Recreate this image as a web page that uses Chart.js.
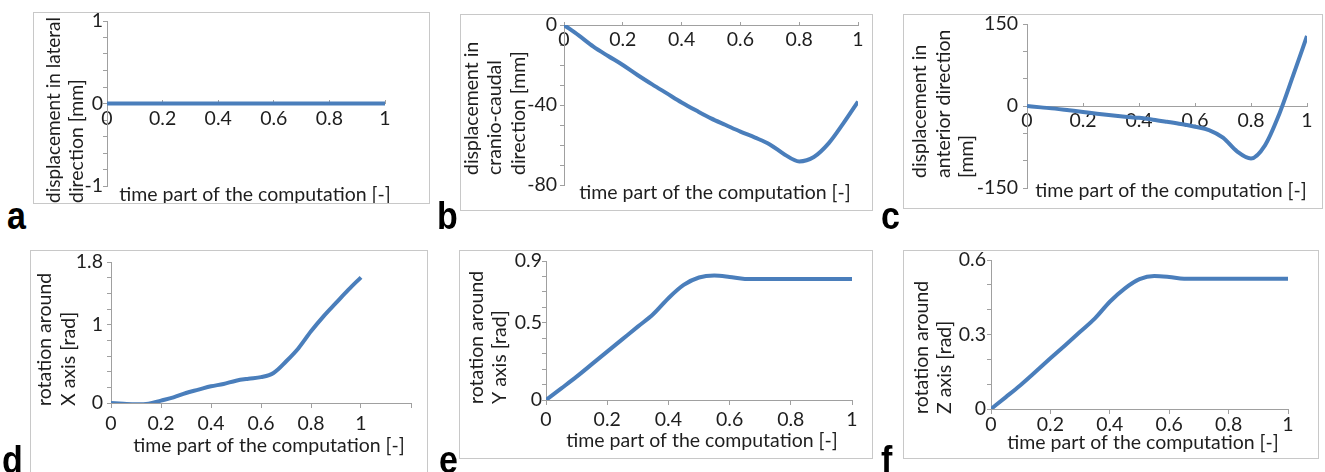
<!DOCTYPE html>
<html>
<head>
<meta charset="utf-8">
<script src="https://cdn.jsdelivr.net/npm/chart.js@4.4.1/dist/chart.umd.min.js"></script>
<style>
  html, body { margin: 0; padding: 0; background: #fff; }
  body { width: 1325px; height: 472px; position: relative; overflow: hidden; }
  .box { position: absolute; border: 1px solid #c8c8c8; box-sizing: border-box; pointer-events: none; }
  .tag { position: absolute; font: bold 34px "Liberation Sans", Arial, sans-serif; line-height: 34px;
         color: #000; transform-origin: 0 29px; transform: scaleY(1.15); }
</style>
</head>
<body>
<script>
// time samples shared by all six panels
const timeSteps = [0, 0.05, 0.1, 0.15, 0.2, 0.25, 0.3, 0.35, 0.4, 0.45, 0.5,
                   0.55, 0.6, 0.65, 0.7, 0.75, 0.8, 0.85, 0.9, 0.95, 1];

// a - c: displacements [mm]
const lateral      = [0, 0, 0, 0, 0, 0, 0, 0, 0, 0, 0, 0, 0, 0, 0, 0, 0, 0, 0, 0, 0];
const cranioCaudal = [0, -5.2, -10.8, -15.5, -20, -25, -29.7, -34.2, -38.7, -42.8, -46.7,
                      -50, -53.3, -56.3, -59.7, -64.7, -68.2, -66, -59.2, -49.2, -38.3];
const anterior     = [0, -2.5, -4.8, -7.8, -10.8, -14, -16.9, -19.5, -21.7, -25, -28.9,
                      -33, -38, -44, -58, -83, -96, -72, -16, 55, 128];
// d - f: rotations [rad]
const rotX = [0, -0.01, -0.017, -0.01, 0.03, 0.072, 0.128, 0.17, 0.213, 0.243, 0.285,
              0.31, 0.33, 0.383, 0.53, 0.7, 0.915, 1.106, 1.277, 1.447, 1.604];
const rotY = [0, 0.075, 0.151, 0.232, 0.313, 0.394, 0.475, 0.555, 0.659, 0.745, 0.793,
              0.806, 0.797, 0.784, 0.784, 0.784, 0.784, 0.784, 0.784, 0.784, 0.784];
const rotZ = [0, 0.048, 0.097, 0.15, 0.204, 0.257, 0.311, 0.365, 0.432, 0.485, 0.523,
              0.536, 0.532, 0.525, 0.525, 0.525, 0.525, 0.525, 0.525, 0.525, 0.525];

// tick labels that are printed (the other ticks are unlabeled marks)
const xLabels  = [0, 0.2, 0.4, 0.6, 0.8, 1];
const yLabelsA = [-1, 0, 1];
const yLabelsB = [-80, -40, 0];
const yLabelsC = [-150, 0, 150];
const yLabelsD = [0, 1, 1.8];
const yLabelsE = [0, 0.5, 0.9];
const yLabelsF = [0, 0.3, 0.6];

const xTitle = 'time part of the computation [-]';
const yTitles = {
  a: ['displacement in lateral', 'direction [mm]'],
  b: ['displacement in', 'cranio-caudal', 'direction [mm]'],
  c: ['displacement in', 'anterior direction', '[mm]'],
  d: ['rotation around', 'X axis [rad]'],
  e: ['rotation around', 'Y axis [rad]'],
  f: ['rotation around', 'Z axis [rad]'],
};

const lineColor = '#4a7ebb';
const axisColor = '#a0a0a0';
const textColor = '#1e1e1e';
const fontSize = 19.5;
const yRoom = 60;   // width kept for the y tick labels
Chart.defaults.font.family = 'Lato';
Chart.defaults.font.size = fontSize;
Chart.defaults.color = textColor;

// layout of each panel: box = [left, top, width, height] in page px,
// pad = distance from box edge to plot area
const panels = [
  { id: 'a', values: lateral, yLabels: yLabelsA, yMin: -1, yMax: 1, yStep: 0.2, xMax: 1,
    box: [33, 12, 397, 192], pad: { left: 74, right: 45, top: 9, bottom: 18 },
    xTick: -4, xPad: 8, yPad: 0, yAt: [20.5, 191], yLen: 186, xAt: [222, 183], tag: [7, 200] },
  { id: 'b', values: cranioCaudal, yLabels: yLabelsB, yMin: -80, yMax: 0, yStep: 10, xMax: 1,
    box: [460, 14, 413, 197], pad: { left: 104, right: 15, top: 11, bottom: 26 },
    xTick: -4, xPad: 7, yPad: 3, yAt: [11.5, 161], yLen: 160, xAt: [255, 179], tag: [437, 200] },
  { id: 'c', values: anterior, yLabels: yLabelsC, yMin: -150, yMax: 150, yStep: 50, xMax: 1,
    box: [903, 14, 420, 195], pad: { left: 124, right: 16, top: 10, bottom: 21 },
    xTick: -4, xPad: 7, yPad: 5, yAt: [17, 164], yLen: 160, xAt: [268, 177], tag: [881, 200] },
  { id: 'd', values: rotX, yLabels: yLabelsD, yMin: 0, yMax: 1.8, yStep: 0.2, xMax: 1.2,
    box: [30, 250, 398, 230], pad: { left: 81, right: 17, top: 12, bottom: 77 },
    xTick: 4, xPad: 5.5, yPad: 4, yAt: [15, 156], yLen: 160, xAt: [239, 196], tag: [2, 444] },
  { id: 'e', values: rotY, yLabels: yLabelsE, yMin: 0, yMax: 0.9, yStep: 0.1, xMax: 1,
    box: [459, 250, 414, 209], pad: { left: 87, right: 21, top: 11, bottom: 59 },
    xTick: 4, xPad: 4.5, yPad: 0, yAt: [17.5, 154], yLen: 160, xAt: [243, 191], tag: [439, 444] },
  { id: 'f', values: rotZ, yLabels: yLabelsF, yMin: 0, yMax: 0.6, yStep: 0.1, xMax: 1,
    box: [903, 250, 416, 209], pad: { left: 88, right: 31, top: 10, bottom: 50 },
    xTick: 4, xPad: 0, yPad: 1, yAt: [18.5, 164], yLen: 160, xAt: [240, 193], tag: [881, 444] },
];

// axis titles drawn like Excel's free-placed titles
const panelTitles = {
  id: 'panelTitles',
  afterDraw(chart, args, opts) {
    const ctx = chart.ctx;
    ctx.save();
    ctx.fillStyle = textColor;
    ctx.font = fontSize + 'px Lato';
    ctx.textBaseline = 'middle';
    ctx.textAlign = 'center';
    ctx.fillText(opts.xText, opts.xAt[0], opts.xAt[1]);
    ctx.translate(opts.yAt[0], opts.yAt[1]);
    ctx.rotate(-Math.PI / 2);
    ctx.textAlign = 'left';
    opts.yText.forEach((line, i) => ctx.fillText(line, 0, i * 23.5, opts.yLen));
    ctx.restore();
  }
};

function onlyLabels(list) {
  return (v) => list.some(l => Math.abs(l - v) < 1e-9) ? String(+v.toFixed(2)) : '';
}

// fixed scale sizes so the plot area comes from layout.padding
function fixedRoom(scale) {
  if (scale.isHorizontal()) scale.height = 0; else scale.width = yRoom;
  scale.paddingTop = scale.paddingBottom = scale.paddingLeft = scale.paddingRight = 0;
}

panels.forEach(p => {
  const canvas = document.createElement('canvas');
  canvas.width = p.box[2];
  canvas.height = p.box[3];
  canvas.style.cssText = `position:absolute;left:${p.box[0]}px;top:${p.box[1]}px`;
  document.body.appendChild(canvas);

  const frame = document.createElement('div');
  frame.className = 'box';
  frame.style.cssText = `left:${p.box[0]}px;top:${p.box[1]}px;width:${p.box[2]}px;height:${p.box[3]}px`;
  document.body.appendChild(frame);

  const tag = document.createElement('div');
  tag.className = 'tag';
  tag.textContent = p.id;
  tag.style.left = p.tag[0] + 'px';
  tag.style.top = p.tag[1] + 'px';
  document.body.appendChild(tag);

  new Chart(canvas.getContext('2d'), {
    type: 'line',
    data: {
      datasets: [{
        data: timeSteps.map((t, i) => ({ x: t, y: p.values[i] })),
        borderColor: lineColor,
        borderWidth: 4,
        pointRadius: 0,
        cubicInterpolationMode: 'monotone',
        fill: false,
      }]
    },
    options: {
      responsive: false,
      animation: false,
      events: [],
      layout: { padding: Object.assign({}, p.pad, { left: p.pad.left - yRoom }) },
      plugins: {
        legend: { display: false },
        tooltip: { enabled: false },
        panelTitles: { xText: xTitle, xAt: p.xAt, yText: yTitles[p.id], yAt: p.yAt, yLen: p.yLen },
      },
      scales: {
        x: {
          type: 'linear', position: { y: 0 }, min: 0, max: p.xMax,
          ticks: { stepSize: 0.2, autoSkip: false, maxRotation: 0, padding: p.xPad,
                   callback: onlyLabels(xLabels) },
          grid: { drawOnChartArea: false, tickLength: p.xTick, color: axisColor },
          border: { color: axisColor },
          afterFit: fixedRoom,
        },
        y: {
          type: 'linear', position: 'left', min: p.yMin, max: p.yMax,
          ticks: { stepSize: p.yStep, autoSkip: false, padding: p.yPad,
                   callback: onlyLabels(p.yLabels) },
          grid: { drawOnChartArea: false, tickLength: 4, color: axisColor },
          border: { color: axisColor },
          afterFit: fixedRoom,
        }
      }
    },
    plugins: [panelTitles]
  });
});
</script>
</body>
</html>
